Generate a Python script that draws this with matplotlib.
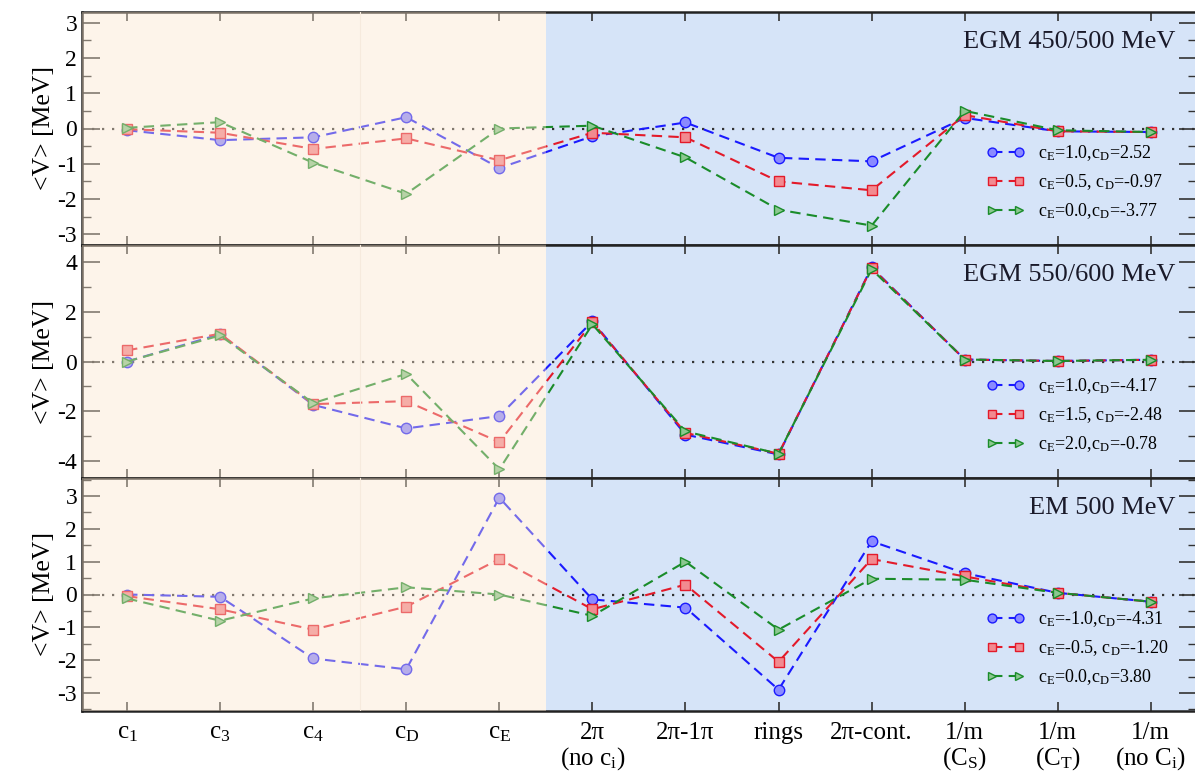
import matplotlib
matplotlib.use('Agg')
import matplotlib.pyplot as plt
from matplotlib.ticker import MultipleLocator

plt.rcParams['font.family'] = ['Liberation Serif', 'DejaVu Serif']
plt.rcParams['mathtext.fontset'] = 'custom'
plt.rcParams['mathtext.rm'] = 'Liberation Serif'
plt.rcParams['mathtext.it'] = 'Liberation Serif:italic'
plt.rcParams['mathtext.default'] = 'rm'
plt.rcParams['axes.unicode_minus'] = False

# categories on the x axis
categories = [r'c$_1$', r'c$_3$', r'c$_4$', r'c$_D$', r'c$_E$',
              '2π\n(no c$_i$)', '2π-1π', 'rings', '2π-cont.',
              '1/m\n(C$_S$)', '1/m\n(C$_T$)', '1/m\n(no C$_i$)']

# panel titles
titles = ['EGM 450/500 MeV', 'EGM 550/600 MeV', 'EM 500 MeV']

# legend labels per panel
labels_top = [r'c$_E$=1.0,c$_D$=2.52', r'c$_E$=0.5, c$_D$=-0.97', r'c$_E$=0.0,c$_D$=-3.77']
labels_mid = [r'c$_E$=1.0,c$_D$=-4.17', r'c$_E$=1.5, c$_D$=-2.48', r'c$_E$=2.0,c$_D$=-0.78']
labels_bot = [r'c$_E$=-1.0,c$_D$=-4.31', r'c$_E$=-0.5, c$_D$=-1.20', r'c$_E$=0.0,c$_D$=3.80']

# EGM 450/500 MeV
top_blue = [-0.05, -0.33, -0.25, 0.32, -1.12, -0.22, 0.17, -0.83, -0.93, 0.30, -0.08, -0.10]
top_red = [-0.02, -0.12, -0.58, -0.28, -0.90, -0.12, -0.25, -1.50, -1.75, 0.38, -0.08, -0.10]
top_green = [0.02, 0.18, -0.97, -1.85, 0.00, 0.08, -0.82, -2.30, -2.75, 0.50, -0.05, -0.10]

# EGM 550/600 MeV
mid_blue = [0.00, 1.10, -1.75, -2.70, -2.20, 1.62, -2.95, -3.75, 3.80, 0.08, 0.02, 0.07]
mid_red = [0.45, 1.12, -1.72, -1.60, -3.25, 1.58, -2.88, -3.72, 3.78, 0.08, 0.02, 0.07]
mid_green = [0.00, 1.05, -1.68, -0.50, -4.35, 1.50, -2.82, -3.72, 3.72, 0.08, 0.02, 0.07]

# EM 500 MeV
bot_blue = [0.00, -0.07, -1.95, -2.28, 2.95, -0.15, -0.40, -2.90, 1.62, 0.65, 0.05, -0.22]
bot_red = [-0.05, -0.45, -1.07, -0.37, 1.08, -0.45, 0.30, -2.05, 1.08, 0.55, 0.05, -0.22]
bot_green = [-0.12, -0.80, -0.12, 0.22, 0.00, -0.65, 1.00, -1.07, 0.48, 0.45, 0.05, -0.22]

panels = [
    (titles[0], [top_blue, top_red, top_green], labels_top, (-3.3, 3.3), 1, 0.5),
    (titles[1], [mid_blue, mid_red, mid_green], labels_mid, (-4.7, 4.7), 2, 1),
    (titles[2], [bot_blue, bot_red, bot_green], labels_bot, (-3.55, 3.55), 1, 0.5),
]

line_colors = ['#1a1aff', '#e31a2a', '#1a8c2a']
face_colors = ['#8a8aff', '#f28a90', '#8cc890']
markers = ['o', 's', '>']

W, H = 1195, 776
fig = plt.figure(figsize=(W / 100, H / 100), dpi=100)
left = 82 / W
tops = [12, 245, 478]
panel_h = 233
wash = (250 / 255, 228 / 255, 203 / 255)

x = list(range(len(categories)))

for i, (title, series, labels, ylim, major, minor) in enumerate(panels):
    ax = fig.add_axes([left, 1 - (tops[i] + panel_h) / H, 1 - left + 0.002, panel_h / H])
    ax.set_xlim(-0.484, 11.5)
    ax.set_ylim(*ylim)

    # blue background under the data, orange wash over the data
    ax.axvspan(4.5, 12, color='#d6e4f8', zorder=0, lw=0)
    ax.axvspan(-1, 2.5, color=wash, alpha=0.4, zorder=10, lw=0)
    ax.axvspan(2.5, 4.5, color=wash, alpha=0.4, zorder=10, lw=0)
    ax.axvline(2.5, color='#f6eadd', lw=0.8, zorder=11)

    ax.axhline(0, color='#333333', ls=(0, (1, 3.5)), lw=1.6, zorder=1)

    for ys, lab, lc, fc, mk in zip(series, labels, line_colors, face_colors, markers):
        ax.plot(x, ys, color=lc, ls=(0, (5, 3)), lw=1.5, marker=mk, ms=7.5,
                mfc=fc, mec=lc, mew=1.0, label=lab, zorder=3)

    ax.text(0.980, 0.871, title, transform=ax.transAxes, ha='right', va='center',
            fontsize=19, color='#1a1a2a', zorder=12)

    leg = ax.legend(loc='upper left', bbox_to_anchor=(0.811, 0.435), frameon=False,
                    fontsize=13, numpoints=2, markerscale=0.85, handlelength=2.1,
                    handletextpad=0.75, labelspacing=0.5, borderpad=0, borderaxespad=0)
    leg.set_zorder(12)

    ax.set_xticks(x)
    ax.yaxis.set_major_locator(MultipleLocator(major))
    ax.yaxis.set_minor_locator(MultipleLocator(minor))
    ax.tick_params(axis='x', which='major', direction='in', length=6.5, width=1.2,
                   top=True, bottom=True, labelsize=18, pad=8, colors='#333333',
                   labelcolor='black')
    ax.tick_params(axis='y', which='major', direction='in', length=13, width=1.2,
                   left=True, right=True, labelsize=17, colors='#333333',
                   labelcolor='black')
    ax.tick_params(axis='y', which='minor', direction='in', length=6.5, width=1.0,
                   left=True, right=True, colors='#333333')
    if i < 2:
        ax.set_xticklabels([])
    else:
        ax.set_xticklabels(categories, va='top', linespacing=1.05)
    for sp in ax.spines.values():
        sp.set_linewidth(1.8)
        sp.set_color('#222222')
    ax.set_ylabel('<V> [MeV]', fontsize=18.5, labelpad=2)

fig.savefig('out.png', dpi=100)
